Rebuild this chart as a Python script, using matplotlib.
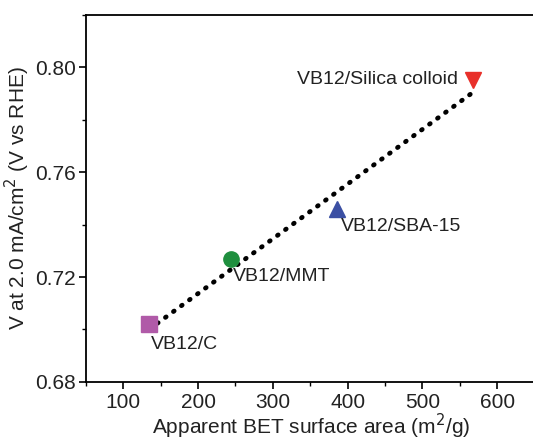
import numpy as np
import matplotlib
matplotlib.use('Agg')
import matplotlib.pyplot as plt
from matplotlib.ticker import MultipleLocator

plt.rcParams['font.family'] = ['Liberation Sans', 'DejaVu Sans']

# data
samples = ['VB12/C', 'VB12/MMT', 'VB12/SBA-15', 'VB12/Silica colloid']
bet_area = [135, 244, 386, 567]      # m2/g
potential = [0.702, 0.727, 0.746, 0.795]  # V vs RHE
markers = ['s', 'o', '^', 'v']
colors = ['#b05aa8', '#1f8f3e', '#3b4fa3', '#e8302a']

fig = plt.figure(figsize=(5.33, 4.4), dpi=100)
ax = fig.add_axes([0.161, 0.132, 0.845, 0.834])

# linear fit, dotted
k, b = np.polyfit(bet_area, potential, 1)
xx = np.array([bet_area[0], bet_area[-1]])
ax.plot(xx, k * xx + b - 0.001, color='black', lw=3.4, linestyle=(0, (0.2, 1.9)),
        dash_capstyle='round', zorder=2)

for x, y, m, c in zip(bet_area, potential, markers, colors):
    ax.plot(x, y, marker=m, color=c, markersize=11, linestyle='none', zorder=3)

txt = dict(fontsize=14, color='#222222')
ax.text(bet_area[0] + 2, potential[0] - 0.0045, samples[0], ha='left', va='top', **txt)
ax.text(bet_area[1] + 3, potential[1] - 0.0035, samples[1], ha='left', va='top', **txt)
ax.text(bet_area[2] + 5, potential[2] - 0.0035, samples[2], ha='left', va='top', **txt)
ax.text(bet_area[3] - 20, potential[3] + 0.0005, samples[3], ha='right', va='center', **txt)

ax.set_xlim(50, 652)
ax.set_ylim(0.68, 0.82)
ax.xaxis.set_minor_locator(MultipleLocator(50))
ax.yaxis.set_minor_locator(MultipleLocator(0.02))
ax.set_yticks([0.68, 0.72, 0.76, 0.80])
ax.set_yticklabels(['0.68', '0.72', '0.76', '0.80'])
ax.set_xticks([100, 200, 300, 400, 500, 600])

ax.tick_params(which='major', direction='out', length=5, width=1.2, labelsize=15,
               labelcolor='#222222')
ax.tick_params(which='minor', direction='out', length=3, width=1.0)
ax.tick_params(axis='x', pad=3)
ax.tick_params(axis='y', pad=2)

for s in ['left', 'top', 'bottom']:
    ax.spines[s].set_linewidth(1.3)
ax.spines['right'].set_visible(False)

ax.set_xlabel('Apparent BET surface area (m$^2$/g)', fontsize=15, color='#222222', labelpad=0)
ax.set_ylabel('V at 2.0 mA/cm$^2$ (V vs RHE)', fontsize=15, color='#222222', labelpad=2)

plt.savefig('out.png', dpi=100)
